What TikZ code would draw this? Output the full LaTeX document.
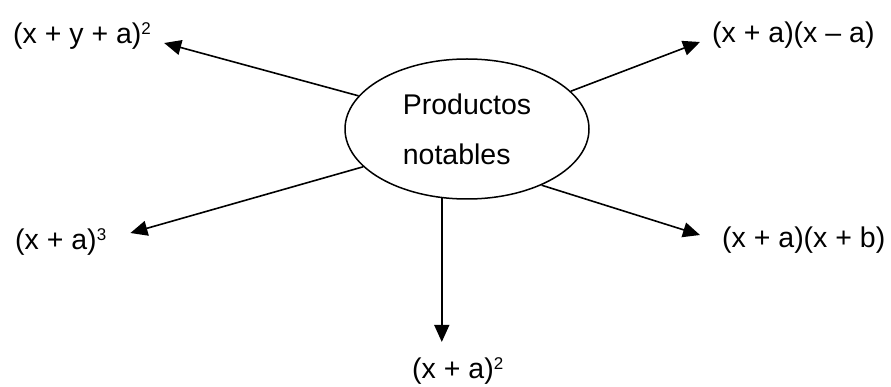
\documentclass[tikz,border=0pt]{standalone}
\usepackage{fontspec}
\setmainfont{Liberation Sans}
\usetikzlibrary{shapes.geometric, arrows.meta, positioning}
\newcommand{\supnum}[1]{\raisebox{9pt}{\fontsize{17}{17}\selectfont #1}}

\begin{document}
\begin{tikzpicture}[
  x=1pt, y=-1pt,
  every node/.style={font=\fontsize{28.5}{50}\selectfont},
  topic/.style={ellipse, draw, line width=1.5pt, minimum width=244pt,
                minimum height=140pt, inner sep=0pt, align=left},
  formula/.style={inner sep=0pt, anchor=base west},
  link/.style={-{Triangle[length=17pt,width=15pt]}, line width=1.6pt},
]
  \useasboundingbox (0,0) rectangle (891,387);

  \node[topic] (center) at (467,129) {Productos\\notables};

  \node[formula] (xya2) at (13,44) {(x + y + a)\supnum{2}};
  \node[formula] (xaxma) at (712,43) {(x + a)(x \textendash{} a)};
  \node[formula] (xa3) at (15,250) {(x + a)\supnum{3}};
  \node[formula] (xaxb) at (722,248) {(x + a)(x + b)};
  \node[formula] (xa2) at (412,378) {(x + a)\supnum{2}};

  \draw[link] (center.163) -- ([shift={(13pt,1pt)}]xya2.base east);
  \draw[link] (center.20) -- ([shift={(-12pt,1pt)}]xaxma.base west);
  \draw[link] (center.200) -- ([shift={(24pt,17pt)}]xa3.base east);
  \draw[link] (center.323) -- ([shift={(-22pt,13pt)}]xaxb.base west);
  \draw[link, shorten >=15pt] (center.250) -- (center.250 |- xa2.north);
\end{tikzpicture}
\end{document}
